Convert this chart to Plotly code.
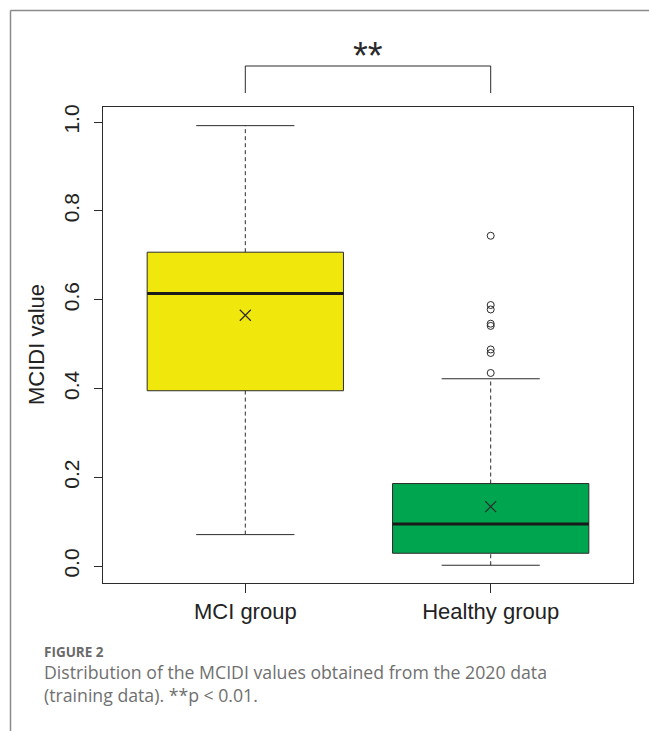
import plotly.graph_objects as go

# Summary statistics of MCIDI values per group
groups = ["MCI group", "Healthy group"]
positions = [1, 2]
q1 = [0.395, 0.029]
median = [0.614, 0.095]
q3 = [0.707, 0.186]
whisker_low = [0.071, 0.002]
whisker_high = [0.992, 0.422]
means = [0.565, 0.134]
box_colors = ["#F0E80C", "#00A550"]

# Outliers beyond the whiskers
outlier_group = [2, 2, 2, 2, 2, 2, 2, 2]
outlier_values = [0.744, 0.588, 0.578, 0.546, 0.541, 0.488, 0.480, 0.435]

y_ticks = [0.0, 0.2, 0.4, 0.6, 0.8, 1.0]
significance = "**"

BOX_HALF = 0.4
CAP_HALF = 0.2
INK = "#2b2b2b"
FONT = "Liberation Sans, Arial, sans-serif"

W, H = 649, 731
M_L, M_R, M_T, M_B = 103, 16, 107, 148
PW = W - M_L - M_R
PH = H - M_T - M_B


def px_x(px):
    return (px - M_L) / PW


def px_y(py):
    return (H - M_B - py) / PH


fig = go.Figure()

shapes = []
for pos, a, m, b, lo, hi, col in zip(positions, q1, median, q3,
                                     whisker_low, whisker_high, box_colors):
    shapes.append(dict(type="rect", xref="x", yref="y", layer="below",
                       x0=pos - BOX_HALF, x1=pos + BOX_HALF, y0=a, y1=b,
                       fillcolor=col, line=dict(color=INK, width=1)))
    shapes.append(dict(type="line", xref="x", yref="y", layer="below",
                       x0=pos, x1=pos, y0=b, y1=hi,
                       line=dict(color=INK, width=1, dash="4px,3px")))
    shapes.append(dict(type="line", xref="x", yref="y", layer="below",
                       x0=pos, x1=pos, y0=lo, y1=a,
                       line=dict(color=INK, width=1, dash="4px,3px")))
    for v in (lo, hi):
        shapes.append(dict(type="line", xref="x", yref="y", layer="below",
                           x0=pos - CAP_HALF, x1=pos + CAP_HALF, y0=v, y1=v,
                           line=dict(color=INK, width=1)))
    shapes.append(dict(type="line", xref="x", yref="y", layer="below",
                       x0=pos - BOX_HALF, x1=pos + BOX_HALF, y0=m, y1=m,
                       line=dict(color="#1a1a1a", width=3)))

# Significance bracket between the two groups
br_top = px_y(66)
br_bot = px_y(93)
shapes.append(dict(type="path", xref="x", yref="paper",
                   path=f"M {positions[0]} {br_bot} L {positions[0]} {br_top} "
                        f"L {positions[1]} {br_top} L {positions[1]} {br_bot}",
                   line=dict(color=INK, width=1)))

# Card border (left and top edges)
shapes.append(dict(type="line", xref="paper", yref="paper",
                   x0=px_x(10.5), x1=px_x(10.5), y0=px_y(10.5), y1=px_y(H + 2),
                   line=dict(color="#8a8a8a", width=1.5)))
shapes.append(dict(type="line", xref="paper", yref="paper",
                   x0=px_x(10.5), x1=px_x(W + 2), y0=px_y(10.5), y1=px_y(10.5),
                   line=dict(color="#8a8a8a", width=1.5)))

fig.add_trace(go.Scatter(
    x=outlier_group, y=outlier_values, mode="markers",
    marker=dict(symbol="circle-open", size=7, color=INK, line=dict(width=1)),
    showlegend=False, hoverinfo="y"))

fig.add_trace(go.Scatter(
    x=positions, y=means, mode="markers",
    marker=dict(symbol="x-thin-open", size=11, color=INK, line=dict(width=1.2, color=INK)),
    showlegend=False, hoverinfo="y"))

annotations = [
    dict(text=significance, xref="x", yref="paper",
         x=(positions[0] + positions[1]) / 2, y=px_y(56),
         showarrow=False, font=dict(family=FONT, size=38, color="#2a2a2a"),
         xanchor="center", yanchor="middle"),
    dict(text="MCIDI value", xref="paper", yref="paper",
         x=px_x(36), y=0.5, textangle=-90, showarrow=False,
         font=dict(family=FONT, size=22, color="#222"),
         xanchor="center", yanchor="middle"),
    dict(text="<b>FIGURE 2</b>", xref="paper", yref="paper",
         x=px_x(42), y=px_y(652), showarrow=False, align="left",
         font=dict(family="Open Sans, sans-serif", size=13.5, color="#6a6a6a"),
         xanchor="left", yanchor="middle"),
    dict(text="Distribution of the MCIDI values obtained from the 2020 data<br>"
              "(training data). **p &lt; 0.01.",
         xref="paper", yref="paper",
         x=px_x(42), y=px_y(683), showarrow=False, align="left",
         font=dict(family="Open Sans, sans-serif", size=17.7, color="#707070"),
         xanchor="left", yanchor="middle"),
]

fig.update_layout(
    width=W, height=H,
    margin=dict(l=M_L, r=M_R, t=M_T, b=M_B),
    paper_bgcolor="white", plot_bgcolor="white",
    shapes=shapes, annotations=annotations,
    showlegend=False,
    xaxis=dict(range=[0.42, 2.58], tickvals=positions, ticktext=groups,
               ticks="outside", ticklen=9, tickcolor=INK, tickwidth=1,
               showline=True, mirror=True, linecolor=INK, linewidth=1,
               showgrid=False, zeroline=False,
               tickfont=dict(family=FONT, size=22, color="#222")),
    yaxis=dict(range=[-0.038, 1.034], tickvals=y_ticks, tickformat=".1f",
               ticks="outside", ticklen=8, tickcolor=INK, tickwidth=1,
               tickangle=-90, ticklabelstandoff=7,
               showline=True, mirror=True, linecolor=INK, linewidth=1,
               showgrid=False, zeroline=False,
               tickfont=dict(family=FONT, size=21, color="#222")),
)

fig.write_html("out.html")
